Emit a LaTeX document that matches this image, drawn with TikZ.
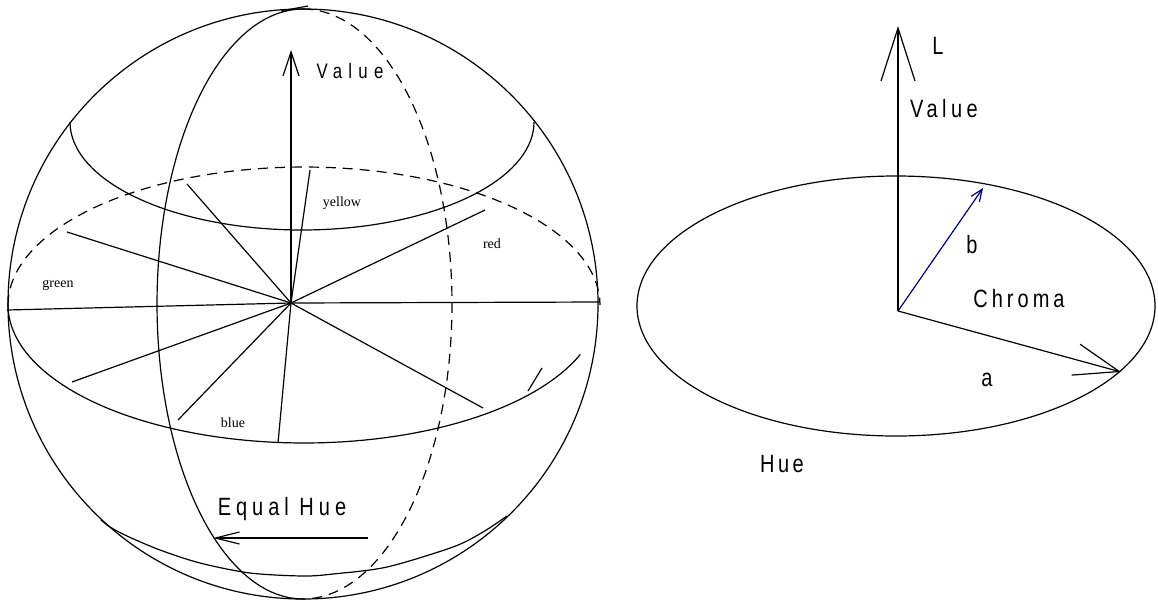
\documentclass[tikz,border=0pt]{standalone}
\usepackage{fontspec}
\setmainfont{Liberation Serif}
\newfontfamily\labfont[FakeStretch=0.8]{Liberation Sans}
\usetikzlibrary{arrows.meta}
\newcommand{\spc}[2]{{\addfontfeature{LetterSpace=#1}#2}}
\definecolor{navyb}{RGB}{0,0,128}
\begin{document}
\begin{tikzpicture}[x=1pt,y=-1pt,line width=1.2pt,line join=round,
  big/.style={font=\labfont\fontsize{25}{25}\selectfont,inner sep=0pt,anchor=base},
  mid/.style={font=\labfont\fontsize{21}{21}\selectfont,inner sep=0pt,anchor=base},
  huename/.style={font=\fontsize{14}{14}\selectfont,inner sep=0pt,anchor=base},
  back/.style={dash pattern=on 10pt off 7pt},
  vtip/.style={-{Straight Barb[length=24pt,width=16pt]}},
  etip/.style={-{Straight Barb[length=24pt,width=12pt]}},
  ltip/.style={-{Straight Barb[length=53pt,width=34pt]}},
  btip/.style={-{Straight Barb[length=12pt,width=10pt]}},
  atip/.style={-{Straight Barb[length=45pt,width=32pt]}}]
\useasboundingbox (0,0) rectangle (1158,603);
% ---------- sphere ----------
\draw (303,304) circle[radius=295pt];
% upper cap
\draw plot[domain=0:180,samples=73] ({302+232*cos(\x)},{122+108*sin(\x)});
% equator: back dashed, front solid
\draw[back] plot[domain=180:360,samples=73] ({304+296*cos(\x)},{305+138*sin(\x)});
\draw plot[domain=21:180,samples=73] ({304+296*cos(\x)},{305+138*sin(\x)});
\draw (528,391) -- (542,368);
% lower cap
\draw plot[smooth,tension=0.5] coordinates {(101,520) (110,527) (127,536) (160,550) (200,563) (250,573) (303,576) (333,574) (387,567) (453,547) (483,532) (507,516)};
% meridians
\draw plot[domain=90:270,samples=73] ({303+146*cos(\x)},{304+295*sin(\x)});
\draw[back] plot[domain=-90:90,samples=73] ({303+149*cos(\x)},{304+295*sin(\x)});
\draw (281,11) -- (308,6);
% spokes
\coordinate (C) at (291,303);
\coordinate (s1) at (67,232);
\coordinate (s2) at (187,184);
\coordinate (s3) at (310,170);
\coordinate (s4) at (485,210);
\coordinate (s5) at (600,302);
\coordinate (s6) at (7,310);
\coordinate (s7) at (72,382);
\coordinate (s8) at (178,420);
\coordinate (s9) at (278,443);
\coordinate (s10) at (483,408);
\foreach \s in {s1,s2,s3,s4,s5,s6,s7,s8,s9,s10} \draw (C) -- (\s);
% value axis
\coordinate (vtop) at (291,50);
\draw[vtip] (C) -- (vtop);
\node[mid] (valL) at (350,78) {\spc{30}{Value}};
% hue names
\node[huename] (yellow) at (342,206) {yellow};
\node[huename] (red) at (492,248) {red};
\node[huename] (green) at (58,287) {green};
\node[huename] (blue) at (233,427) {blue};
% equal hue
\node[big] (eqhue) at (282,515) {\spc{20}{Equal Hue}};
\coordinate (eh1) at (368,538);
\coordinate (eh2) at (213,538);
\draw[etip] (eh1) -- (eh2);
% ---------- right diagram ----------
\draw (896,306) ellipse[x radius=259pt,y radius=130pt];
\coordinate (R) at (898,311);
\coordinate (Ltop) at (898,26);
\coordinate (bend) at (983,188);
\coordinate (aend) at (1121,372);
\draw[ltip] (R) -- (Ltop);
\draw[btip,navyb] (R) -- (bend);
\draw[atip] (R) -- (aend);
\node[big] (Llab) at (938,54) {L};
\node[big] (valR) at (944,117) {\spc{18}{Value}};
\node[big] (blab) at (972,253) {b};
\node[big] (chroma) at (1019,307) {\spc{16}{Chroma}};
\node[big] (alab) at (987,386) {a};
\node[big] (huelab) at (782,472) {\spc{14}{Hue}};
\end{tikzpicture}
\end{document}
